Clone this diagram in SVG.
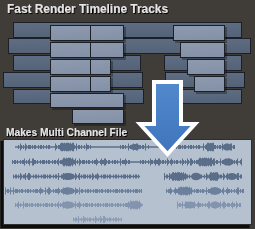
<svg xmlns="http://www.w3.org/2000/svg" width="255" height="229" viewBox="0 0 255 229">
<defs>
<linearGradient id="gd" x1="0" y1="0" x2="0.15" y2="1">
<stop offset="0" stop-color="#5f6e84"/><stop offset="1" stop-color="#546377"/>
</linearGradient>
<linearGradient id="gl" x1="0" y1="0" x2="0.2" y2="1">
<stop offset="0" stop-color="#8d9ab0"/><stop offset="1" stop-color="#8491a7"/>
</linearGradient>
<linearGradient id="ga" x1="0" y1="0" x2="0" y2="1">
<stop offset="0" stop-color="#5289cc"/><stop offset="1" stop-color="#3f74bb"/>
</linearGradient>
<filter id="ts" x="-5%" y="-30%" width="110%" height="160%">
<feDropShadow dx="1" dy="1" stdDeviation="0.4" flood-color="#000" flood-opacity="0.9"/>
</filter>
</defs>
<style>
.t{font-family:"Liberation Sans",Arial,sans-serif;font-weight:bold;fill:#e4e4e4;filter:url(#ts)}
.dk{fill:url(#gd);stroke:#1c2026;stroke-width:1}
.lt{fill:url(#gl);stroke:#1c2026;stroke-width:1}
.sh{fill:#000;opacity:0.3}
.wc{stroke-width:1.6;fill:none}
.wm{stroke-width:4;fill:none;stroke-dasharray:1 1 2 1 1 2 1 1 3 1 1 1 2 2}
.wt{stroke-width:7;fill:none;stroke-dasharray:1 4 1 2 2 7 1 3 1 9 2 5}
.wb{stroke-width:8.5;fill:none;stroke-dasharray:2 1 1 1 3 1 1 1 2 1}
ellipse{stroke:none}
.r1{stroke:#5a6e89;fill:#5a6e89}
.r4{stroke:#6b809c;fill:#6b809c}
.r5{stroke:#8294ae;fill:#8294ae}
.r6{stroke:#8b9cb5;fill:#8b9cb5}
</style>
<rect width="255" height="229" fill="#403d39"/>
<text class="t" x="7" y="13" font-size="11.9">Fast Render Timeline Tracks</text>

<g id="tracks-back">
<rect class="dk" x="13.5" y="22.5" width="228" height="15"/>
<rect class="dk" x="8.5" y="38.5" width="242" height="15"/>
<rect class="dk" x="13.5" y="55.5" width="127" height="15"/>
<rect class="dk" x="164.5" y="55.5" width="77" height="15"/>
<rect class="dk" x="3.5" y="72.5" width="139" height="15"/>
<rect class="dk" x="165.5" y="72.5" width="79" height="15"/>
<rect class="dk" x="13.5" y="89.5" width="130" height="14"/>
<rect class="dk" x="177.5" y="89.5" width="64" height="14"/>
</g>
<g id="tracks-front">
<rect class="sh" x="52" y="27" width="74" height="16"/>
<rect class="sh" x="52" y="44" width="74" height="16"/>
<rect class="sh" x="52" y="61" width="61" height="16"/>
<rect class="sh" x="52" y="78" width="61" height="16"/>
<rect class="sh" x="52" y="95" width="74" height="15"/>
<rect class="sh" x="74" y="111" width="52" height="15"/>
<rect class="sh" x="175" y="27" width="52" height="16"/>
<rect class="sh" x="182" y="44" width="45" height="16"/>
<rect class="sh" x="189" y="61" width="38" height="16"/>
<rect class="sh" x="196" y="78" width="31" height="16"/>
<rect class="lt" x="50.5" y="25.5" width="40" height="15"/>
<rect class="lt" x="90.5" y="25.5" width="33" height="15"/>
<rect class="lt" x="50.5" y="42.5" width="40" height="15"/>
<rect class="lt" x="90.5" y="42.5" width="33" height="15"/>
<rect class="lt" x="50.5" y="59.5" width="40" height="15"/>
<rect class="lt" x="90.5" y="59.5" width="20" height="15"/>
<rect class="lt" x="50.5" y="76.5" width="40" height="15"/>
<rect class="lt" x="90.5" y="76.5" width="20" height="15"/>
<rect class="lt" x="50.5" y="93.5" width="73" height="14"/>
<rect class="lt" x="72.5" y="109.5" width="51" height="14"/>
<rect class="lt" x="173.5" y="25.5" width="51" height="15"/>
<rect class="lt" x="180.5" y="42.5" width="44" height="15"/>
<rect class="lt" x="187.5" y="59.5" width="37" height="15"/>
<rect class="lt" x="194.5" y="76.5" width="30" height="15"/>
</g>

<text class="t" x="6" y="135.5" font-size="10.2">Makes Multi Channel File</text>

<g id="panel">
<rect x="0.5" y="141" width="249" height="87" fill="#0d0d0d"/>
<rect x="3.5" y="139.5" width="248" height="85" fill="#b6c1cf" stroke="#2e2e2e"/>
<g class="r1">
<path class="wc" d="M15 147H235"/>
<path class="wm" d="M18 147H50M56 147H92M120 147H150M168 147H200M203 147H235"/>
<path class="wt" d="M20 147H27M55 147H80M86 147H90M128 147H148M203 147H217M222 147H232"/>
<ellipse cx="67" cy="147" rx="9" ry="3.8"/><ellipse cx="135" cy="147" rx="6" ry="3"/><ellipse cx="210" cy="147" rx="5" ry="3.8"/><ellipse cx="227" cy="147" rx="4" ry="3.5"/>
<path class="wb" d="M61 147H74M207 147H214"/>
</g>
<g class="r1">
<path class="wc" d="M12 162H242"/>
<path class="wm" d="M12 162H130M140 162H242"/>
<path class="wt" d="M24 162H36M58 162H82M96 162H106M120 162H128M150 162H172M182 162H242"/>
<ellipse cx="68" cy="162" rx="8" ry="3.6"/><ellipse cx="205" cy="162" rx="9" ry="3.8"/><ellipse cx="228" cy="162" rx="6" ry="3.5"/>
<path class="wb" d="M63 162H73M199 162H212"/>
</g>
<g class="r1">
<path class="wc" d="M13 176.5H140M164 176.5H242"/>
<path class="wm" d="M13 176.5H140M164 176.5H242"/>
<path class="wt" d="M20 176.5H32M58 176.5H80M92 176.5H98M164 176.5H200M206 176.5H240"/>
<ellipse cx="68" cy="176.5" rx="7" ry="3.5"/><ellipse cx="178" cy="176.5" rx="9" ry="3.8"/><ellipse cx="196" cy="176.5" rx="5" ry="3.8"/><ellipse cx="214" cy="176.5" rx="6" ry="3.8"/><ellipse cx="232" cy="176.5" rx="5" ry="3.5"/>
<path class="wb" d="M172 176.5H184M210 176.5H218"/>
</g>
<g class="r4">
<path class="wc" d="M5 191H142M166 191H244"/>
<path class="wm" d="M5 191H142M166 191H244"/>
<path class="wt" d="M5 191H14M40 191H50M58 191H80M170 191H200M206 191H242"/>
<ellipse cx="68" cy="191" rx="7" ry="3.5"/><ellipse cx="185" cy="191" rx="8" ry="3.8"/><ellipse cx="215" cy="191" rx="6" ry="3.8"/>
<path class="wb" d="M180 191H190"/>
</g>
<g class="r5">
<path class="wc" d="M15 205H143M177 205H241"/>
<path class="wm" d="M15 205H143M177 205H241"/>
<path class="wt" d="M18 205H26M58 205H80M128 205H143M177 205H241"/>
<ellipse cx="68" cy="205" rx="7" ry="3.5"/><ellipse cx="135" cy="205" rx="7" ry="3.8"/><ellipse cx="190" cy="205" rx="6" ry="3.5"/><ellipse cx="215" cy="205" rx="5" ry="3.5"/>
<path class="wb" d="M130 205H140"/>
</g>
<g class="r6">
<path class="wc" d="M73 219.5H122"/>
<path class="wm" d="M73 219.5H122"/>
<path class="wt" d="M78 219.5H86M95 219.5H110"/>
</g>
</g>

<g id="connectors">
<polygon points="154,82 181,82 181,124 195,124 167.5,154 140,124 154,124" fill="url(#ga)" stroke="#ffffff" stroke-width="4" stroke-linejoin="miter"/>
</g>
</svg>
